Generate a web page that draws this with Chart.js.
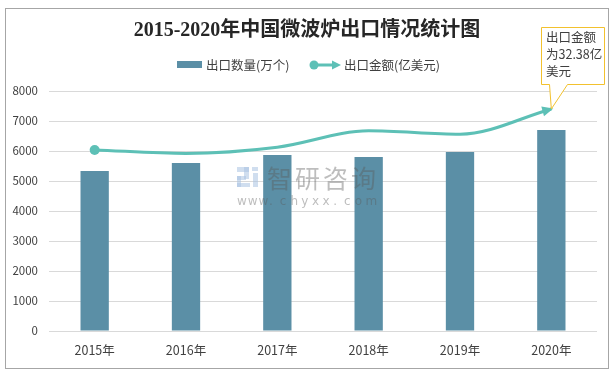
<!DOCTYPE html>
<html>
<head>
<meta charset="utf-8">
<script src="https://cdn.jsdelivr.net/npm/chart.js@4/dist/chart.umd.min.js"></script>
<style>
  html, body { margin: 0; padding: 0; background: #ffffff; }
  #wrap { position: relative; width: 613px; height: 375px; }
</style>
</head>
<body>
<div id="wrap"><canvas id="c" width="613" height="375"></canvas></div>
<script>
// ---- data ----
const years = ["2015年", "2016年", "2017年", "2018年", "2019年", "2020年"];
const exportQty = [5330, 5600, 5870, 5800, 5970, 6700];        // 出口数量(万个)
const exportAmount = [26.4, 25.9, 26.8, 29.2, 28.7, 32.38];     // 出口金额(亿美元)
const yTicks = [0, 1000, 2000, 3000, 4000, 5000, 6000, 7000, 8000];
const titleText = "2015-2020年中国微波炉出口情况统计图";
const seriesNames = ["出口数量(万个)", "出口金额(亿美元)"];

const BAR_COLOR = "#5b8fa6";
const LINE_COLOR = "#5dc0b6";
const FONT = "'Microsoft YaHei', 'Noto Sans CJK SC', 'Liberation Sans', sans-serif";

const decorPlugin = {
  id: "decor",
  beforeDraw(chart) {
    const ctx = chart.ctx;
    ctx.save();
    // outer frame
    ctx.strokeStyle = "#a6a6a6";
    ctx.lineWidth = 1;
    ctx.strokeRect(5.5, 8.5, 603, 360);
    // title
    ctx.fillStyle = "#262626";
    ctx.font = "bold 20px 'Liberation Serif', 'Noto Sans CJK SC', serif";
    ctx.textAlign = "center";
    ctx.textBaseline = "middle";
    ctx.fillText(titleText, 307, 31);
    // legend
    ctx.font = "12.5px " + FONT;
    ctx.textAlign = "left";
    ctx.fillStyle = BAR_COLOR;
    ctx.fillRect(177, 61, 25, 7);
    ctx.fillStyle = "#404040";
    ctx.fillText(seriesNames[0], 206, 65);
    // line legend
    ctx.strokeStyle = LINE_COLOR;
    ctx.lineWidth = 3;
    ctx.beginPath(); ctx.moveTo(313, 65); ctx.lineTo(335, 65); ctx.stroke();
    ctx.fillStyle = LINE_COLOR;
    ctx.beginPath(); ctx.arc(314, 65, 4.5, 0, Math.PI * 2); ctx.fill();
    ctx.beginPath(); ctx.moveTo(341, 65); ctx.lineTo(332, 60.5); ctx.lineTo(332, 69.5); ctx.closePath(); ctx.fill();
    ctx.fillStyle = "#404040";
    ctx.fillText(seriesNames[1], 344, 65);
    ctx.restore();
  },
  afterDatasetsDraw(chart) {
    const ctx = chart.ctx;
    const lineMeta = chart.getDatasetMeta(1);
    const pts = lineMeta.data;
    const last = pts[pts.length - 1];
    ctx.save();
    // arrow head at end of line, along tangent
    let dx = last.x - (last.cp1x !== undefined ? last.cp1x : pts[pts.length - 2].x);
    let dy = last.y - (last.cp1y !== undefined ? last.cp1y : pts[pts.length - 2].y);
    const ang = Math.atan2(dy, dx);
    ctx.translate(last.x, last.y);
    ctx.rotate(ang);
    ctx.fillStyle = LINE_COLOR;
    ctx.beginPath();
    ctx.moveTo(2, 0); ctx.lineTo(-9, -5); ctx.lineTo(-9, 5); ctx.closePath(); ctx.fill();
    ctx.restore();

    // watermark
    ctx.save();
    ctx.fillStyle = "rgba(170,195,225,0.55)";
    ctx.fillRect(237, 167, 12, 5);
    ctx.fillRect(244, 167, 5, 12);
    ctx.fillRect(237, 176, 9, 4);
    ctx.fillRect(237, 176, 4, 11);
    ctx.fillRect(237, 183, 13, 4);
    ctx.fillRect(252, 167, 6, 4);
    ctx.fillRect(253, 173, 5, 14);
    ctx.fillStyle = "rgba(90,90,90,0.4)";
    ctx.font = "25px 'Noto Sans CJK SC', sans-serif";
    ctx.textAlign = "left";
    ctx.textBaseline = "middle";
    const wm = "智研咨询";
    for (let i = 0; i < wm.length; i++) ctx.fillText(wm[i], 267 + i * 28, 178);
    ctx.font = "12px 'DejaVu Sans', sans-serif";
    const url = "www.chyxx.com";
    for (let i = 0; i < url.length; i++) ctx.fillText(url[i], 237 + i * 10.7, 202);
    ctx.restore();

    // callout
    ctx.save();
    const bx = 541.5, by = 27.5, bw = 63, bh = 57;
    ctx.strokeStyle = "#f2c12e";
    ctx.fillStyle = "#ffffff";
    ctx.lineWidth = 1;
    ctx.beginPath();
    ctx.moveTo(bx, by);
    ctx.lineTo(bx + bw, by);
    ctx.lineTo(bx + bw, by + bh);
    ctx.lineTo(bx + 26, by + bh);
    ctx.lineTo(last.x, last.y);
    ctx.lineTo(bx + 8, by + bh);
    ctx.lineTo(bx, by + bh);
    ctx.closePath();
    ctx.fill();
    ctx.stroke();
    ctx.fillStyle = "#404040";
    ctx.font = "12.5px " + FONT;
    ctx.textAlign = "left";
    ctx.textBaseline = "middle";
    ctx.fillText("出口金额", 546, 37);
    ctx.fillText("为" + exportAmount[exportAmount.length - 1] + "亿", 546, 54);
    ctx.fillText("美元", 546, 71);
    ctx.restore();
  }
};

new Chart(document.getElementById("c"), {
  data: {
    labels: years,
    datasets: [
      {
        type: "bar",
        label: seriesNames[0],
        data: exportQty,
        backgroundColor: BAR_COLOR,
        borderWidth: 0,
        categoryPercentage: 1,
        barPercentage: 0.31,
        yAxisID: "y",
        order: 2
      },
      {
        type: "line",
        label: seriesNames[1],
        data: exportAmount,
        borderColor: LINE_COLOR,
        backgroundColor: LINE_COLOR,
        borderWidth: 3,
        tension: 0.4,
        cubicInterpolationMode: "monotone",
        pointRadius: [5, 0, 0, 0, 0, 0],
        pointBorderWidth: 0,
        pointBackgroundColor: LINE_COLOR,
        yAxisID: "y1",
        order: 1
      }
    ]
  },
  options: {
    responsive: false,
    animation: false,
    layout: { padding: { top: 91, left: 0, right: 16, bottom: 0 } },
    plugins: {
      legend: { display: false },
      title: { display: false },
      tooltip: { enabled: false }
    },
    scales: {
      x: {
        grid: { display: false, drawTicks: false },
        border: { display: false },
        ticks: { color: "#404040", font: { size: 12.5, family: FONT }, padding: 12 },
        afterFit(s) { s.height = 44; }
      },
      y: {
        min: 0, max: 8000,
        afterBuildTicks(s) { s.ticks = yTicks.map(v => ({ value: v })); },
        grid: { color: "#d9d9d9", drawTicks: false, lineWidth: 1 },
        border: { display: false },
        ticks: {
          color: "#404040",
          font: { size: 11.5, family: FONT },
          padding: 11,
          callback: (v) => String(v)
        },
        afterFit(s) { s.width = 49; }
      },
      y1: {
        display: false,
        min: 0, max: 35
      }
    }
  },
  plugins: [decorPlugin]
});
</script>
</body>
</html>
